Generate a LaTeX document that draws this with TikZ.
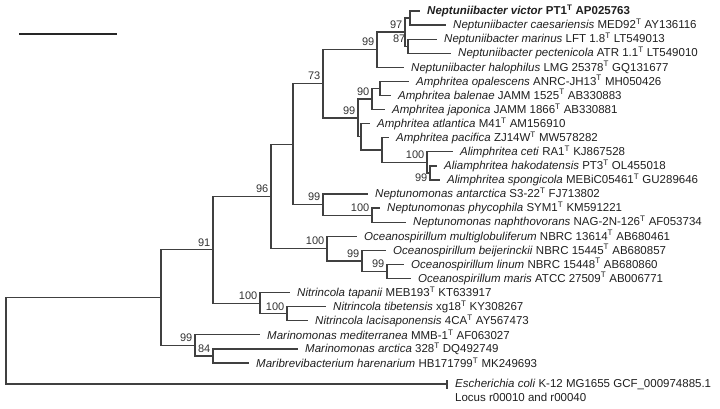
\documentclass[tikz,border=0pt]{standalone}
\usepackage{fontspec}
\setmainfont{Liberation Sans}
\usetikzlibrary{positioning}
\begin{document}
\begin{tikzpicture}[x=1pt, y=-1pt, branch/.style={draw=black!75, line width=1.3pt}, leaf/.style={inner sep=1pt, anchor=west, font=\fontsize{11.5}{13}\selectfont, text=black!88}, boot/.style={anchor=south east, inner xsep=2.5pt, inner ysep=3.5pt, font=\fontsize{11}{13}\selectfont, text=black!80}]
\useasboundingbox (0, 0) rectangle (720, 408);
\coordinate (sb1) at (19, 34);
\coordinate (sb2) at (117, 34);
\draw[line width=2pt, black!85] (sb1) -- (sb2);
\coordinate (root) at (6, 340.8);
\coordinate (nA) at (161, 297.6);
\coordinate (tE) at (447, 384);
\draw[branch] (root) |- (nA);
\draw[branch] (root) |- (tE);
\coordinate (tE1) at (447, 380);
\coordinate (tE2) at (447, 389);
\draw[branch] (tE1) -- (tE2);
\node[leaf, right=7pt of tE] (lE) {\textit{Escherichia coli} K-12 MG1655 GCF\_000974885.1};
\node[leaf, below=1.5pt of lE.south west, anchor=north west] (lE2) {Locus r00010 and r00040};
\coordinate (n91) at (213, 249.8);
\coordinate (m99) at (195, 345.4);
\draw[branch] (nA) |- (n91);
\draw[branch] (nA) |- (m99);
\node[boot] at (n91) (b91) {91};
\node[boot] at (m99) (bm99) {99};
\coordinate (t23) at (260, 334.8);
\node[leaf, right=6pt of t23] (l23) {\textit{Marinomonas mediterranea} MMB-1\textsuperscript{T} AF063027};
\draw[branch] (m99) |- (t23);
\coordinate (m84) at (213, 356);
\draw[branch] (m99) |- (m84);
\node[boot] at (m84) (bm84) {84};
\coordinate (t24) at (298, 348.9);
\node[leaf, right=6pt of t24] (l24) {\textit{Marinomonas arctica} 328\textsuperscript{T} DQ492749};
\draw[branch] (m84) |- (t24);
\coordinate (t25) at (249, 363);
\node[leaf, right=6pt of t25] (l25) {\textit{Maribrevibacterium harenarium} HB171799\textsuperscript{T} MK249693};
\draw[branch] (m84) |- (t25);
\coordinate (n96) at (271, 196.4);
\coordinate (ni100a) at (260, 303.2);
\draw[branch] (n91) |- (n96);
\draw[branch] (n91) |- (ni100a);
\node[boot] at (n96) (b96) {96};
\node[boot] at (ni100a) (bni100a) {100};
\coordinate (t20) at (290, 292.6);
\node[leaf, right=6pt of t20] (l20) {\textit{Nitrincola tapanii} MEB193\textsuperscript{T} KT633917};
\draw[branch] (ni100a) |- (t20);
\coordinate (ni100b) at (287, 313.8);
\draw[branch] (ni100a) |- (ni100b);
\node[boot] at (ni100b) (bni100b) {100};
\coordinate (t21) at (326, 306.7);
\node[leaf, right=6pt of t21] (l21) {\textit{Nitrincola tibetensis} xg18\textsuperscript{T} KY308267};
\draw[branch] (ni100b) |- (t21);
\coordinate (t22) at (308, 320.8);
\node[leaf, right=6pt of t22] (l22) {\textit{Nitrincola lacisaponensis} 4CA\textsuperscript{T} AY567473};
\draw[branch] (ni100b) |- (t22);
\coordinate (q) at (293, 144.2);
\coordinate (oc100) at (327, 248.6);
\draw[branch] (n96) |- (q);
\draw[branch] (n96) |- (oc100);
\node[boot] at (oc100) (boc100) {100};
\coordinate (t16) at (357, 236.3);
\node[leaf, right=6pt of t16] (l16) {\textit{Oceanospirillum multiglobuliferum} NBRC 13614\textsuperscript{T} AB680461};
\draw[branch] (oc100) |- (t16);
\coordinate (oc99a) at (362, 260.9);
\draw[branch] (oc100) |- (oc99a);
\node[boot] at (oc99a) (boc99a) {99};
\coordinate (t17) at (386, 250.4);
\node[leaf, right=6pt of t17] (l17) {\textit{Oceanospirillum beijerinckii} NBRC 15445\textsuperscript{T} AB680857};
\draw[branch] (oc99a) |- (t17);
\coordinate (oc99b) at (387, 271.5);
\draw[branch] (oc99a) |- (oc99b);
\node[boot] at (oc99b) (boc99b) {99};
\coordinate (t18) at (404, 264.4);
\node[leaf, right=6pt of t18] (l18) {\textit{Oceanospirillum linum} NBRC 15448\textsuperscript{T} AB680860};
\draw[branch] (oc99b) |- (t18);
\coordinate (t19) at (411, 278.5);
\node[leaf, right=6pt of t19] (l19) {\textit{Oceanospirillum maris} ATCC 27509\textsuperscript{T} AB006771};
\draw[branch] (oc99b) |- (t19);
\coordinate (n73) at (323, 83.8);
\coordinate (np99) at (323, 204.6);
\draw[branch] (q) |- (n73);
\draw[branch] (q) |- (np99);
\node[boot] at (n73) (b73) {73};
\node[boot] at (np99) (bnp99) {99};
\coordinate (t13) at (368, 194);
\node[leaf, right=6pt of t13] (l13) {\textit{Neptunomonas antarctica} S3-22\textsuperscript{T} FJ713802};
\draw[branch] (np99) |- (t13);
\coordinate (np100) at (372, 215.2);
\draw[branch] (np99) |- (np100);
\node[boot] at (np100) (bnp100) {100};
\coordinate (t14) at (380, 208.1);
\node[leaf, right=6pt of t14] (l14) {\textit{Neptunomonas phycophila} SYM1\textsuperscript{T} KM591221};
\draw[branch] (np100) |- (t14);
\coordinate (t15) at (406, 222.2);
\node[leaf, right=6pt of t15] (l15) {\textit{Neptunomonas naphthovorans} NAG-2N-126\textsuperscript{T} AF053734};
\draw[branch] (np100) |- (t15);
\coordinate (ne99) at (377, 49.7);
\coordinate (am99) at (358, 117.9);
\draw[branch] (n73) |- (ne99);
\draw[branch] (n73) |- (am99);
\node[boot] at (ne99) (bne99) {99};
\node[boot] at (am99) (bam99) {99};
\coordinate (ne97) at (405, 32.1);
\draw[branch] (ne99) |- (ne97);
\node[boot] at (ne97) (bne97) {97};
\coordinate (t4) at (404, 67.3);
\node[leaf, right=6pt of t4] (l4) {\textit{Neptuniibacter halophilus} LMG 25378\textsuperscript{T} GQ131677};
\draw[branch] (ne99) |- (t4);
\coordinate (nev) at (410, 18.1);
\coordinate (ne87) at (408, 46.2);
\draw[branch] (ne97) |- (nev);
\draw[branch] (ne97) |- (ne87);
\node[boot] at (ne87) (bne87) {87};
\coordinate (t0) at (420, 11);
\node[leaf, right=6pt of t0] (l0) {\textbf{\textit{Neptuniibacter victor} PT1\textsuperscript{T} AP025763}};
\draw[branch] (nev) |- (t0);
\coordinate (t1) at (446, 25.1);
\node[leaf, right=6pt of t1] (l1) {\textit{Neptuniibacter caesariensis} MED92\textsuperscript{T} AY136116};
\draw[branch] (nev) |- (t1);
\coordinate (t2) at (437, 39.2);
\node[leaf, right=6pt of t2] (l2) {\textit{Neptuniibacter marinus} LFT 1.8\textsuperscript{T} LT549013};
\draw[branch] (ne87) |- (t2);
\coordinate (t3) at (451, 53.2);
\node[leaf, right=6pt of t3] (l3) {\textit{Neptuniibacter pectenicola} ATR 1.1\textsuperscript{T} LT549010};
\draw[branch] (ne87) |- (t3);
\coordinate (am90) at (372, 99);
\coordinate (amk) at (361, 136.8);
\draw[branch] (am99) |- (am90);
\draw[branch] (am99) |- (amk);
\node[boot] at (am90) (bam90) {90};
\coordinate (amob) at (380, 88.5);
\draw[branch] (am90) |- (amob);
\coordinate (t5) at (409, 81.4);
\node[leaf, right=6pt of t5] (l5) {\textit{Amphritea opalescens} ANRC-JH13\textsuperscript{T} MH050426};
\draw[branch] (amob) |- (t5);
\coordinate (t6) at (391, 95.5);
\node[leaf, right=6pt of t6] (l6) {\textit{Amphritea balenae} JAMM 1525\textsuperscript{T} AB330883};
\draw[branch] (amob) |- (t6);
\coordinate (t7) at (385, 109.6);
\node[leaf, right=6pt of t7] (l7) {\textit{Amphritea japonica} JAMM 1866\textsuperscript{T} AB330881};
\draw[branch] (am90) |- (t7);
\coordinate (t8) at (370, 123.6);
\node[leaf, right=6pt of t8] (l8) {\textit{Amphritea atlantica} M41\textsuperscript{T} AM156910};
\draw[branch] (amk) |- (t8);
\coordinate (amp) at (382, 150);
\draw[branch] (amk) |- (amp);
\coordinate (t9) at (389, 137.7);
\node[leaf, right=6pt of t9] (l9) {\textit{Amphritea pacifica} ZJ14W\textsuperscript{T} MW578282};
\draw[branch] (amp) |- (t9);
\coordinate (al100) at (427, 162.4);
\draw[branch] (amp) |- (al100);
\node[boot] at (al100) (bal100) {100};
\coordinate (t10) at (453, 151.8);
\node[leaf, right=6pt of t10] (l10) {\textit{Alimphritea ceti} RA1\textsuperscript{T} KJ867528};
\draw[branch] (al100) |- (t10);
\coordinate (al99) at (430, 173);
\draw[branch] (al100) |- (al99);
\node[boot, anchor=north east, inner ysep=1pt] at (al99) (bal99) {99};
\coordinate (t11) at (437, 165.9);
\node[leaf, right=6pt of t11] (l11) {\textit{Aliamphritea hakodatensis} PT3\textsuperscript{T} OL455018};
\draw[branch] (al99) |- (t11);
\coordinate (t12) at (440, 180);
\node[leaf, right=6pt of t12] (l12) {\textit{Alimphritea spongicola} MEBiC05461\textsuperscript{T} GU289646};
\draw[branch] (al99) |- (t12);
\end{tikzpicture}
\end{document}
